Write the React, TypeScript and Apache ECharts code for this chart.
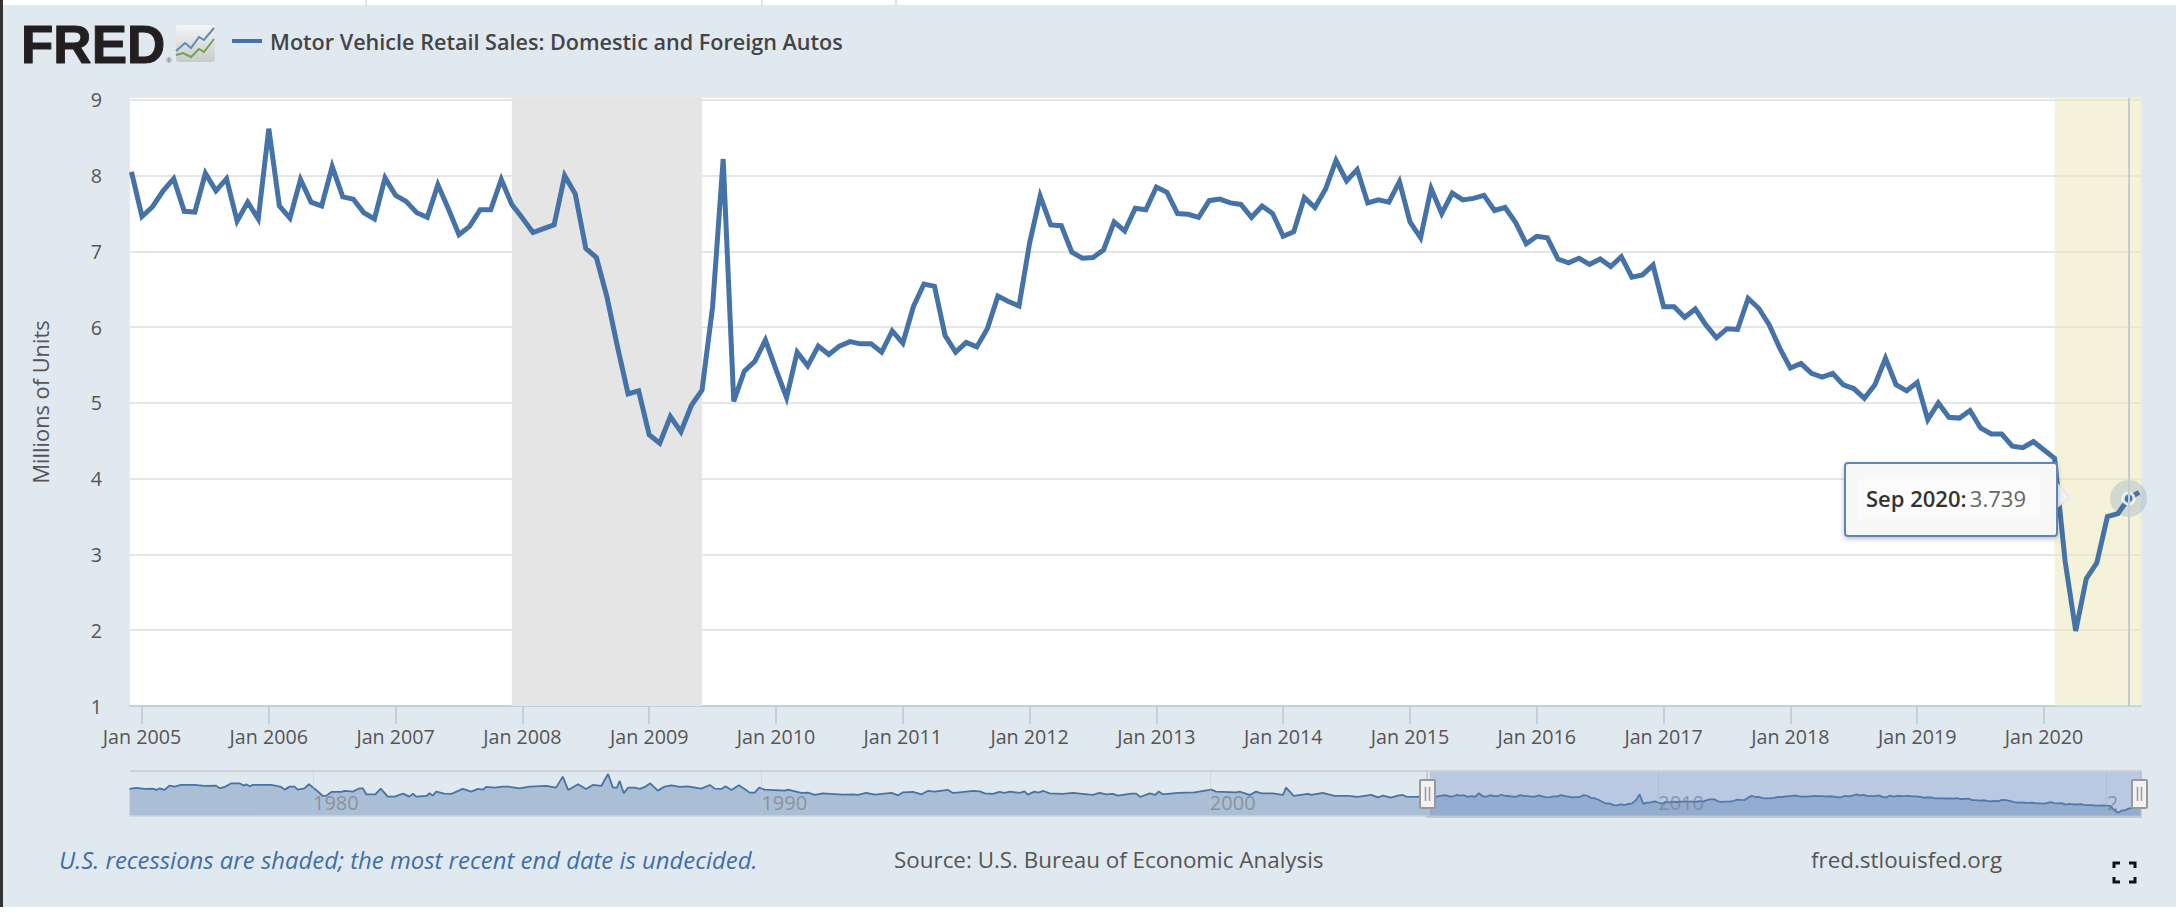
import React, { useEffect, useRef } from "react";
import * as echarts from "echarts";

const seriesName = "Motor Vehicle Retail Sales: Domestic and Foreign Autos";
const tickLabels = ["Jan 2005","Jan 2006","Jan 2007","Jan 2008","Jan 2009","Jan 2010","Jan 2011","Jan 2012","Jan 2013","Jan 2014","Jan 2015","Jan 2016","Jan 2017","Jan 2018","Jan 2019","Jan 2020"];
const navTickYears = [1980, 1990, 2000, 2010, 2020];

const sales2004 = [8.05];
const sales2005 = [7.46,7.59,7.80,7.96,7.53,7.52,8.03,7.80,7.96,7.40,7.65,7.43];
const sales2006 = [8.62,7.60,7.44,7.95,7.65,7.60,8.12,7.72,7.69,7.51,7.43,7.97];
const sales2007 = [7.74,7.66,7.51,7.45,7.88,7.56,7.22,7.33,7.55,7.55,7.95,7.62];
const sales2008 = [7.44,7.25,7.30,7.35,8.00,7.76,7.04,6.92,6.40,5.74,5.12,5.16];
const sales2009 = [4.58,4.47,4.82,4.62,4.97,5.17,6.27,8.22,5.02,5.42,5.55,5.83];
const sales2010 = [5.44,5.07,5.67,5.49,5.75,5.64,5.75,5.81,5.78,5.78,5.67,5.95];
const sales2011 = [5.79,6.27,6.57,6.54,5.89,5.67,5.80,5.74,5.98,6.41,6.34,6.28];
const sales2012 = [7.11,7.73,7.35,7.34,6.99,6.91,6.92,7.02,7.39,7.27,7.57,7.55];
const sales2013 = [7.85,7.78,7.50,7.49,7.45,7.67,7.69,7.64,7.62,7.45,7.60,7.50];
const sales2014 = [7.20,7.26,7.71,7.58,7.82,8.20,7.93,8.08,7.64,7.68,7.65,7.92];
const sales2015 = [7.39,7.18,7.83,7.50,7.77,7.68,7.70,7.74,7.54,7.58,7.38,7.10];
const sales2016 = [7.20,7.18,6.90,6.85,6.91,6.83,6.90,6.80,6.93,6.66,6.69,6.82];
const sales2017 = [6.27,6.27,6.13,6.24,6.03,5.86,5.98,5.97,6.38,6.25,6.03,5.72];
const sales2018 = [5.46,5.52,5.39,5.34,5.39,5.24,5.19,5.06,5.24,5.59,5.24,5.16];
const sales2019 = [5.27,4.78,5.00,4.81,4.80,4.90,4.67,4.59,4.59,4.43,4.41,4.49];
const sales2020 = [4.38,4.27,2.91,1.99,2.68,2.89,3.50,3.54,3.739,3.82];

const navYears = [1975.91,1976.06,1976.25,1976.43,1976.51,1976.58,1976.69,1976.80,1976.91,1977.06,1977.36,1977.58,1977.84,1977.92,1978.03,1978.18,1978.36,1978.46,1978.51,1978.59,1978.66,1979.07,1979.29,1979.37,1979.48,1979.59,1979.66,1979.81,1979.91,1980.07,1980.22,1980.30,1980.41,1980.63,1980.71,1980.89,1981.04,1981.11,1981.19,1981.39,1981.51,1981.67,1981.82,1982.01,1982.15,1982.23,1982.30,1982.53,1982.60,1982.67,1982.75,1982.93,1983.08,1983.34,1983.53,1983.68,1983.79,1983.86,1984.05,1984.24,1984.35,1984.61,1984.83,1985.20,1985.42,1985.57,1985.69,1985.91,1986.09,1986.24,1986.43,1986.58,1986.69,1986.78,1986.84,1986.93,1987.03,1987.17,1987.29,1987.40,1987.52,1987.69,1987.84,1987.99,1988.18,1988.36,1988.66,1988.85,1988.96,1989.11,1989.20,1989.33,1989.50,1989.60,1989.74,1989.85,1989.95,1990.07,1990.52,1990.59,1990.89,1991.04,1991.19,1991.37,1991.82,1992.04,1992.15,1992.34,1992.53,1992.79,1992.90,1993.05,1993.16,1993.38,1993.57,1993.71,1993.86,1994.16,1994.27,1994.42,1994.72,1994.87,1994.98,1995.16,1995.31,1995.42,1995.54,1995.76,1995.87,1995.94,1996.09,1996.17,1996.29,1996.43,1996.72,1996.95,1997.10,1997.39,1997.54,1997.69,1997.84,1997.95,1998.25,1998.36,1998.45,1998.66,1998.78,1998.86,1998.95,1999.29,1999.66,2000.03,2000.14,2000.59,2000.66,2000.89,2001.03,2001.15,2001.41,2001.63,2001.70,2001.87,2002.19,2002.26,2002.52,2002.78,2003.08,2003.30,2003.60,2003.75,2003.86,2004.04,2004.19,2004.30,2004.38,2004.64];
const navValues = [10.09,10.43,10.09,10.2,9.75,10.31,9.75,11.22,10.88,11.45,11.45,11.11,11.22,10.31,10.77,12.02,12.02,11.22,11.68,11.0,11.45,11.45,10.77,9.86,10.88,10.88,9.86,10.31,11.68,9.75,7.7,7.81,9.06,9.06,9.4,9.18,10.31,10.31,8.27,8.27,10.2,7.47,7.47,8.5,7.47,8.5,7.47,7.7,8.61,7.81,9.18,8.5,8.38,10.09,9.18,10.09,9.86,10.77,10.54,10.88,10.88,10.31,10.88,11.11,10.54,14.29,9.75,11.68,10.09,11.45,11.11,15.2,10.54,10.54,12.81,8.61,10.54,10.54,10.09,10.77,12.02,9.52,10.88,11.34,10.77,11.0,10.2,11.45,10.2,10.09,11.0,9.75,11.34,10.31,8.84,8.84,10.54,9.86,9.52,9.86,8.72,8.84,8.04,8.61,8.15,8.27,8.04,8.72,8.15,8.61,8.72,7.93,8.95,9.06,8.27,9.4,9.18,9.75,8.72,8.95,9.4,9.29,8.61,8.38,9.06,8.72,9.18,8.72,9.29,8.15,9.18,8.84,9.4,8.61,8.38,8.72,8.5,8.04,8.72,8.27,8.38,7.81,8.5,8.5,7.36,8.61,8.04,9.18,8.27,8.72,8.95,9.86,9.18,8.95,9.18,8.04,9.18,8.61,8.61,8.04,10.54,7.7,8.38,8.04,8.72,7.7,7.7,7.36,8.04,7.25,7.81,7.13,7.81,8.04,7.47,7.36];

const salesValues = [...sales2004,...sales2005,...sales2006,...sales2007,...sales2008,...sales2009,...sales2010,...sales2011,...sales2012,...sales2013,...sales2014,...sales2015,...sales2016,...sales2017,...sales2018,...sales2019,...sales2020];
// month index: 0 = Jan 2005
const salesPoints = salesValues.map((v, i) => [i - 1, v]);
const monthToYear = (m: number) => 2005 + m / 12;
const navPoints = [
  ...navYears.map((y, i) => [y, navValues[i]]),
  ...salesPoints.map(([m, v]) => [monthToYear(m), v]),
];
const hoverMonth = 188; // Sep 2020
const hoverValue = 3.739;
const recessionA = [35, 53];
const recessionB = 181;
const viewStartMonth = -1.136;
const viewEndMonth = 189.18;

const FONT = '"Open Sans", sans-serif';
const BG = "#e1e9f0";
const BLUE = "#4572a7";

export default function App() {
  const ref = useRef<HTMLDivElement>(null);
  useEffect(() => {
    document.body.style.margin = "0";
    const chart = echarts.init(ref.current!, undefined, { renderer: "svg" });
    const txt = (x: number, y: number, text: string, extra: any = {}) => ({
      type: "text", x, y, z: 20,
      style: { text, font: `22.4px ${FONT}`, fill: "#555", verticalAlign: "middle", ...extra },
    });
    const bracket = (pts: number[][]) => ({
      type: "polyline", z: 20, shape: { points: pts },
      style: { stroke: "#111", lineWidth: 3, fill: "none" },
    });
    const handle = (x: number) => ({
      type: "group", children: [
        { type: "rect", z: 30, shape: { x, y: 780, width: 15, height: 28, r: 1 }, style: { fill: "#f2f2f2", stroke: "#999", lineWidth: 2 } },
        { type: "line", z: 31, shape: { x1: x + 5.5, y1: 787, x2: x + 5.5, y2: 801 }, style: { stroke: "#999", lineWidth: 1.5 } },
        { type: "line", z: 31, shape: { x1: x + 9.5, y1: 787, x2: x + 9.5, y2: 801 }, style: { stroke: "#999", lineWidth: 1.5 } },
      ],
    });
    chart.setOption({
      animation: false,
      backgroundColor: "#ffffff",
      textStyle: { fontFamily: FONT },
      legend: {
        show: true, data: [seriesName], left: 232, top: 30, icon: "rect",
        itemWidth: 30, itemHeight: 4, padding: 0,
        textStyle: { fontFamily: FONT, fontSize: 21.6, fontWeight: 600, color: "#444", padding: [0, 0, 0, 3] },
      },
      grid: [
        { left: 130, width: 2011, top: 98, height: 608, show: true, backgroundColor: "#ffffff", borderWidth: 0, containLabel: false },
        { left: 130, width: 2011, top: 771, height: 45, show: false },
      ],
      xAxis: [
        {
          type: "value", gridIndex: 0, min: viewStartMonth, max: viewEndMonth,
          axisLine: { show: true, onZero: false, lineStyle: { color: "#c0d0e0", width: 2 } },
          axisTick: { show: true, length: 18, customValues: tickLabels.map((_, i) => i * 12), lineStyle: { color: "#c0d0e0", width: 2 } },
          splitLine: { show: false },
          axisLabel: {
            customValues: tickLabels.map((_, i) => i * 12),
            formatter: (v: number) => tickLabels[Math.round(v / 12)],
            margin: 20, fontFamily: FONT, fontSize: 19.7, color: "#555",
          },
        },
        {
          type: "value", gridIndex: 1, min: 1975.92, max: monthToYear(viewEndMonth),
          axisLine: { show: true, onZero: false, lineStyle: { color: "#c8d5e2", width: 1.5 } },
          axisTick: { show: true, inside: true, length: 45, customValues: navTickYears, lineStyle: { color: "rgba(190,200,205,0.45)", width: 1 } },
          splitLine: { show: false },
          axisLabel: {
            inside: true, customValues: navTickYears, align: "left", margin: 4,
            formatter: (v: number) => (v === 2020 ? "2" : String(v)),
            fontFamily: FONT, fontSize: 20, color: "rgba(130,130,130,0.75)",
          },
          z: 4,
        },
      ],
      yAxis: [
        {
          type: "value", gridIndex: 0, min: 1, max: 9.025, interval: 1,
          name: "Millions of Units", nameLocation: "middle", nameGap: 79, nameRotate: 90,
          nameTextStyle: { fontFamily: FONT, fontSize: 21.8, color: "#555" },
          axisLine: { show: false }, axisTick: { show: false },
          axisLabel: { margin: 28, fontFamily: FONT, fontSize: 19.7, color: "#555", showMaxLabel: false, align: "right" },
          splitLine: { show: true, showMaxLine: false, lineStyle: { color: "#e6e6e6", width: 2 } },
        },
        {
          type: "value", gridIndex: 1, min: 0.88, max: 16.2,
          axisLine: { show: false }, axisTick: { show: false }, axisLabel: { show: false }, splitLine: { show: false },
        },
      ],
      series: [
        {
          name: "recessions", type: "line", xAxisIndex: 0, yAxisIndex: 0, data: [], z: 1, silent: true,
          markArea: {
            silent: true,
            data: [
              [{ xAxis: recessionA[0], itemStyle: { color: "#e5e5e5", opacity: 1 } }, { xAxis: recessionA[1] }],
              [{ xAxis: recessionB, itemStyle: { color: "rgba(235,234,185,0.55)", opacity: 1 } }, { xAxis: viewEndMonth }],
            ],
          },
          markLine: {
            silent: true, symbol: "none", label: { show: false },
            lineStyle: { color: "#c5ccd8", width: 2, type: "solid" },
            data: [{ xAxis: hoverMonth }],
          },
        },
        {
          name: "halo", type: "scatter", xAxisIndex: 0, yAxisIndex: 0, clip: false, z: 2,
          data: [[hoverMonth, hoverValue]], symbolSize: 37, itemStyle: { color: "rgba(69,114,167,0.25)" }, silent: true,
        },
        {
          name: seriesName, type: "line", xAxisIndex: 0, yAxisIndex: 0, data: salesPoints, z: 3,
          showSymbol: false, itemStyle: { color: BLUE },
          lineStyle: { color: BLUE, width: 5, join: "miter", miterLimit: 10, cap: "butt" },
        },
        {
          name: "hover", type: "scatter", xAxisIndex: 0, yAxisIndex: 0, clip: false, z: 4,
          data: [[hoverMonth, hoverValue]], symbolSize: 11, silent: true,
          itemStyle: { color: BLUE, borderColor: "#ffffff", borderWidth: 3 },
        },
        {
          name: "navigator", type: "line", xAxisIndex: 1, yAxisIndex: 1, data: navPoints, z: 2,
          showSymbol: false, silent: true,
          lineStyle: { color: BLUE, width: 1.8 },
          areaStyle: { color: "rgba(69,114,167,0.5)", origin: "start" },
          markArea: {
            silent: true, z: 5,
            itemStyle: { color: "rgba(102,133,194,0.32)" },
            data: [[{ xAxis: monthToYear(viewStartMonth) }, { xAxis: monthToYear(viewEndMonth) }]],
          },
        },
      ],
      graphic: [
        { type: "rect", z: -10, silent: true, shape: { x: 0, y: 5, width: 2176, height: 902 }, style: { fill: BG } },
        { type: "rect", z: -9, silent: true, shape: { x: 0, y: 0, width: 3, height: 907 }, style: { fill: "#333333" } },
        { type: "rect", z: -9, silent: true, shape: { x: 365, y: 0, width: 2, height: 5 }, style: { fill: "#dfe6ee" } },
        { type: "rect", z: -9, silent: true, shape: { x: 761, y: 0, width: 2, height: 5 }, style: { fill: "#dfe6ee" } },
        { type: "rect", z: -9, silent: true, shape: { x: 895, y: 0, width: 2, height: 5 }, style: { fill: "#dfe6ee" } },
        // logo
        { type: "text", x: 21, y: 44, z: 20, style: { text: "FRED", font: '700 53px "Liberation Sans", Arial, sans-serif', fill: "#231f20", stroke: "#231f20", lineWidth: 1, verticalAlign: "middle" } },
        { type: "text", x: 166, y: 60, z: 20, style: { text: "®", font: '700 8px "Liberation Sans", Arial, sans-serif', fill: "#777", verticalAlign: "middle" } },
        {
          type: "rect", z: 20, shape: { x: 176, y: 25, width: 39, height: 37, r: 3 },
          style: { fill: new echarts.graphic.LinearGradient(0, 0, 0, 1, [{ offset: 0, color: "#f4f5f5" }, { offset: 1, color: "#c9cbcb" }]) },
        },
        { type: "polyline", z: 21, shape: { points: [[176, 51], [185, 43], [191, 48], [199, 37], [204, 40], [214, 28]] }, style: { stroke: "#5c8db5", lineWidth: 2, fill: "none" } },
        { type: "polyline", z: 21, shape: { points: [[176, 55], [183, 53], [191, 57], [199, 49], [204, 52], [214, 39]] }, style: { stroke: "#6fa34f", lineWidth: 2, fill: "none" } },
        // navigator frame
        { type: "line", z: 6, shape: { x1: 130, y1: 771, x2: 2141, y2: 771 }, style: { stroke: "#cdd2d6", lineWidth: 2 } },
        { type: "polyline", z: 6, shape: { points: [[1427, 771], [1427, 817], [2141, 817], [2141, 771]] }, style: { stroke: "#b9c0c8", lineWidth: 1.5, fill: "none" } },
        handle(1420), handle(2132),
        // tooltip
        {
          type: "polygon", z: 24, shape: { points: [[2056, 481], [2069, 497.5], [2056, 509]] },
          style: { fill: "#eef3f8", stroke: "#d5e0ea", lineWidth: 1 },
        },
        {
          type: "rect", z: 25, shape: { x: 1845, y: 463, width: 212, height: 73, r: 3 },
          style: { fill: "#f7f7f7", stroke: "#5f86b8", lineWidth: 2, shadowBlur: 5, shadowOffsetY: 2, shadowColor: "rgba(0,0,0,0.25)" },
        },
        { type: "rect", z: 26, shape: { x: 1857, y: 479, width: 183, height: 40 }, style: { fill: "#fbfbfb" } },
        {
          type: "text", x: 1866, y: 498, z: 27,
          style: {
            text: `{b|Sep 2020:} {v|${hoverValue}}`, verticalAlign: "middle",
            rich: {
              b: { fontFamily: FONT, fontSize: 22, fontWeight: 600, fill: "#333" },
              v: { fontFamily: FONT, fontSize: 22, fontWeight: 400, fill: "#666" },
            },
          },
        },
        // footer
        txt(59, 859, "U.S. recessions are shaded; the most recent end date is undecided.", { font: `italic 23.9px ${FONT}`, fill: "#3f6ea6" }),
        txt(894, 859, "Source: U.S. Bureau of Economic Analysis"),
        txt(1811, 859, "fred.stlouisfed.org"),
        bracket([[2114, 868], [2114, 863], [2120, 863]]),
        bracket([[2129, 863], [2135, 863], [2135, 868]]),
        bracket([[2114, 877], [2114, 882], [2120, 882]]),
        bracket([[2129, 882], [2135, 882], [2135, 877]]),
      ],
    });
    return () => chart.dispose();
  }, []);
  return <div ref={ref} style={{ width: 2176, height: 912, position: "absolute", left: 0, top: 0 }} />;
}
